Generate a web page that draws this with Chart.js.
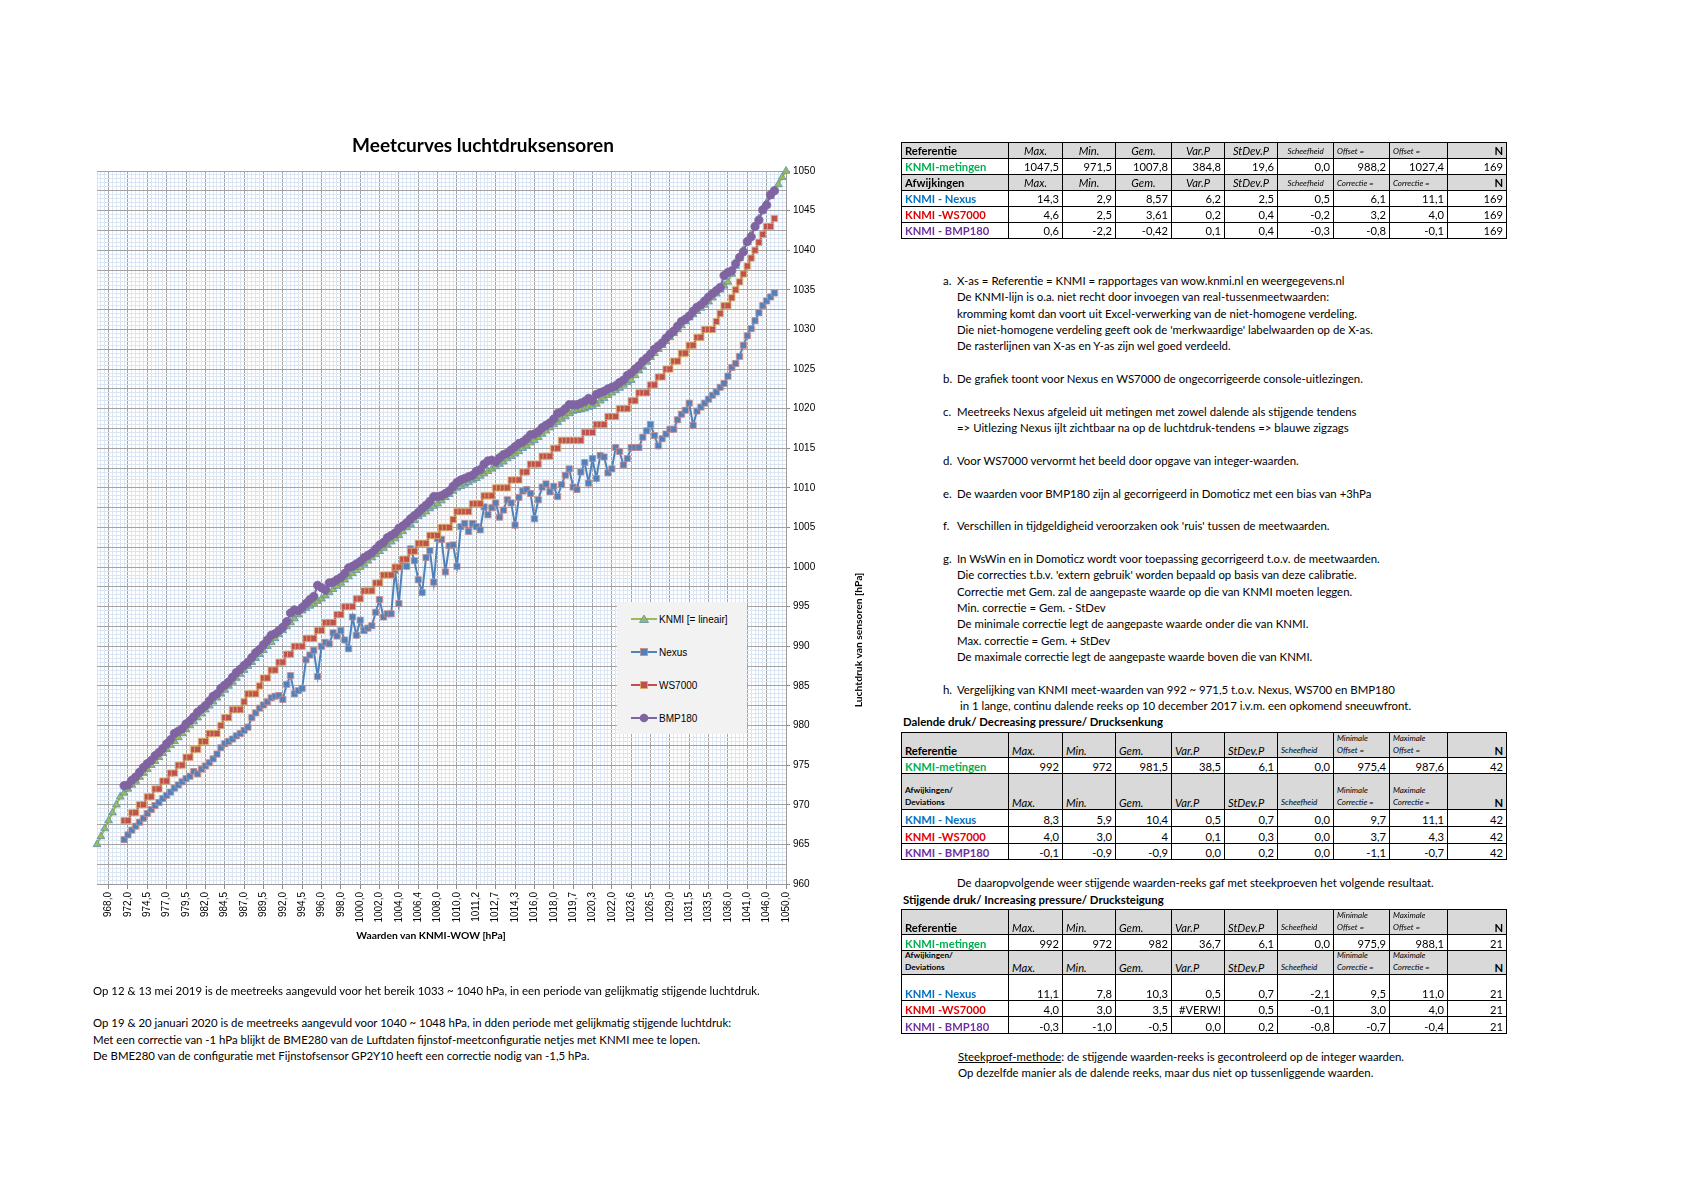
<!DOCTYPE html>
<html><head><meta charset="utf-8">
<script src="https://cdn.jsdelivr.net/npm/chart.js@4.4.1/dist/chart.umd.min.js"></script>
<style>
html,body{margin:0;padding:0;background:#fff;}
body{width:1684px;height:1190px;position:relative;overflow:hidden;font-family:Lato,"Open Sans",sans-serif;color:#000;}
#chartBox{position:absolute;left:0;top:0;width:900px;height:1000px;}
.t{position:absolute;white-space:pre;font-size:11.4px;line-height:14px;}
.cell{position:absolute;box-sizing:border-box;border:1px solid #000;display:flex;padding:0 3px;overflow:hidden;white-space:pre;font-size:11.2px;line-height:11px;}
#legend{position:absolute;left:617px;top:602px;width:130px;height:132px;background:#f2f2f2;font-family:"Liberation Sans",Arial,sans-serif;font-size:10px;}
#legend .row{position:absolute;left:14px;height:14px;display:flex;align-items:center;}
#legend svg{margin-right:2px;}
</style></head><body>
<div id="chartBox"><canvas id="c"></canvas></div>
<div class="t" style="left:0;width:966px;top:133px;text-align:center;font-size:19px;font-weight:bold;line-height:24px;">Meetcurves luchtdruksensoren</div>
<div class="t" style="left:331px;width:200px;top:928px;text-align:center;font-size:10.3px;font-weight:bold;">Waarden van KNMI-WOW [hPa]</div>
<div class="t" style="left:758px;width:200px;top:633px;text-align:center;font-size:10.3px;font-weight:bold;transform:rotate(-90deg);">Luchtdruk van sensoren [hPa]</div>
<div id="legend"></div>
<div id="notes"></div>
<div id="tables"></div>
<script>
// ---------- chart data ----------
// KNMI reference values = x-axis categories (non-homogeneous)
const knmiValues = [
965,966,967,968,969,970,971,971.5,972,972.5,
973,973.5,974,974.5,975,975.5,976,976.5,977,977.5,
978,978.5,979,979.5,980,980.5,981,981.5,982,982.5,
983,983.5,984,984.5,985,985.5,986,986.5,987,987.5,
988,988.5,989,989.5,990,990.5,991,991.5,992,992.5,
993,993.5,994,994.5,994.8,995.1,995.4,995.7,996,996.4,
996.8,997.2,997.6,998,998.4,998.8,999.2,999.6,1000,1000.4,
1000.8,1001.2,1001.6,1002,1002.4,1002.8,1003.2,1003.6,1004,1004.5,
1005,1005.4,1005.9,1006.4,1006.7,1007,1007.4,1007.7,1008,1008.4,
1008.8,1009.2,1009.6,1010,1010.2,1010.5,1010.7,1011,1011.2,1011.5,
1011.8,1012.1,1012.4,1012.7,1013,1013.3,1013.7,1014,1014.3,1014.6,
1015,1015.3,1015.7,1016,1016.4,1016.8,1017.2,1017.6,1018,1018.3,
1018.7,1019,1019.4,1019.7,1019.8,1019.9,1020,1020.2,1020.3,1020.6,
1021,1021.3,1021.7,1022,1022.3,1022.6,1023,1023.3,1023.6,1024.2,
1024.8,1025.3,1025.9,1026.5,1027,1027.5,1028,1028.5,1029,1029.5,
1030,1030.5,1031,1031.5,1031.9,1032.3,1032.7,1033.1,1033.5,1034,
1034.5,1035,1035.5,1036,1037,1038,1039,1040,1041,1042,
1043,1044,1045,1046,1046.8,1047.5,1048.3,1049.2,1050];

// sensor series (169 measurements, category 8 .. 176)
const nexus = [
965.6,966.2,966.8,967.3,967.8,968.3,968.9,969.4,969.9,970.3,
970.8,971.2,971.6,972.1,972.5,972.9,973.3,973.6,974.2,973.9,
974.5,974.9,975.3,975.8,976.4,977.2,977.7,978.0,978.3,978.7,
979.0,979.4,979.8,981.0,981.6,982.2,982.6,983.0,983.5,983.7,
983.8,983.3,985.2,986.3,984.0,984.4,984.7,988.3,988.9,989.5,
986.2,990.0,990.5,990.3,991.7,991.3,992.0,990.8,989.7,993.7,
991.4,993.3,992.0,992.3,992.6,994.3,995.9,993.7,994.1,994.1,
999.6,995.4,1000.8,1000.1,1002.3,1000.8,998.4,996.8,1001.2,1002.1,
998.1,1003.6,1003.5,999.4,1002.7,1002.8,1000.1,1005.1,1005.5,1004.5,
1005.5,1005.1,1004.7,1007.6,1006.6,1007.5,1008.1,1006.3,1007.2,1008.5,
1008.1,1005.3,1008.8,1009.6,1009.8,1009.3,1006.1,1008.5,1010.1,1010.5,
1009.5,1010.2,1008.9,1010.4,1011.6,1012.4,1010.1,1009.8,1012.0,1013.2,
1010.6,1013.7,1011.2,1014.1,1013.9,1011.9,1012.4,1015.1,1014.6,1012.9,
1013.7,1015.1,1015.1,1015.1,1016.4,1017.2,1018.0,1016.6,1015.3,1016.2,
1016.8,1017.4,1017.4,1018.6,1019.3,1019.8,1020.7,1017.9,1019.7,1020.2,
1020.7,1021.2,1021.7,1022.1,1022.7,1023.2,1024.1,1025.2,1025.7,1026.6,
1028.0,1029.2,1030.1,1031.1,1032.1,1033.0,1033.6,1034.1,1034.6];

const ws7000 = [
968,968,969,969,970,970,971,971,972,972,
973,973,974,974,975,975,976,976,977,977,
978,978,979,979,979,980,981,981,982,982,
982,983,984,984,984,985,986,986,987,987,
988,988,989,989,990,990,990,991,991,991,
992,992,993,993,993,994,994,995,995,995,
996,996,997,997,997,998,998,999,999,999,
1000,1000,1001,1001,1002,1002,1003,1003,1003,1004,
1004,1004,1005,1005,1005,1006,1007,1007,1007,1007,
1008,1008,1008,1009,1009,1009,1010,1010,1010,1010,
1011,1011,1011,1012,1012,1013,1013,1013,1014,1014,
1014,1015,1015,1016,1016,1016,1016,1016,1016,1017,
1017,1017,1018,1018,1018,1019,1019,1019,1020,1020,
1020,1021,1021,1022,1022,1022,1023,1023,1024,1024,
1025,1025,1026,1026,1027,1027,1028,1028,1029,1029,
1030,1030,1030,1031,1032,1033,1033,1034,1035,1036,
1037,1038,1039,1040,1041,1042,1043,1043,1044];

const bmp180 = [
972.4,972.5,973.1,973.5,974.1,974.7,975.2,975.6,976.2,976.6,
977.1,977.7,978.2,979.0,979.3,979.6,980.2,980.6,981.1,981.7,
982.1,982.5,983.1,983.7,984.0,984.7,985.1,985.5,986.1,986.7,
987.1,987.6,988.0,988.6,989.2,989.6,990.2,990.8,991.4,991.6,
992.0,992.4,993.1,994.2,994.6,994.5,994.9,995.4,995.9,996.3,
997.7,997.4,997.1,998.0,998.1,998.4,998.7,999.2,999.9,1000.1,
1000.4,1000.7,1001.2,1001.5,1001.8,1002.3,1002.8,1003.1,1003.7,1004.0,
1004.3,1004.9,1005.2,1005.6,1006.1,1006.5,1006.9,1007.4,1007.8,1008.3,
1008.9,1008.9,1009.0,1009.3,1009.6,1010.2,1010.7,1011.0,1011.2,1011.4,
1011.6,1012.1,1012.3,1013.0,1013.4,1013.5,1013.3,1013.8,1014.2,1014.4,
1014.8,1015.2,1015.6,1015.8,1016.2,1016.7,1016.8,1017.1,1017.6,1017.9,
1018.2,1018.7,1019.4,1019.6,1020.0,1020.5,1020.5,1020.5,1020.7,1020.9,
1021.3,1021.0,1021.8,1022.0,1022.2,1022.5,1022.7,1022.9,1023.3,1023.6,
1024.2,1024.5,1025.0,1025.4,1026.0,1026.4,1026.9,1027.5,1027.9,1028.3,
1028.9,1029.4,1029.8,1030.4,1031.0,1031.3,1031.7,1032.3,1032.8,1033.1,
1033.6,1034.1,1034.5,1034.9,1035.3,1036.8,1037.2,1037.4,1038.3,1039.1,
1039.8,1041.1,1041.7,1043.0,1043.8,1045.1,1045.7,1047.0,1047.5];

const seriesNames = ['KNMI [= lineair]','Nexus','WS7000','BMP180'];
const categoryLabels = knmiValues.map(v => v.toFixed(1).replace('.', ','));
const yTickLabels = [960,965,970,975,980,985,990,995,1000,1005,1010,1015,1020,1025,1030,1035,1040,1045,1050];

// ---------- table data ----------
const t1Rows = [
 ['Referentie','Max.','Min.','Gem.','Var.P','StDev.P','Scheefheid','Offset =','Offset =','N'],
 ['KNMI-metingen','1047,5','971,5','1007,8','384,8','19,6','0,0','988,2','1027,4','169'],
 ['Afwijkingen','Max.','Min.','Gem.','Var.P','StDev.P','Scheefheid','Correctie =','Correctie =','N'],
 ['KNMI - Nexus','14,3','2,9','8,57','6,2','2,5','0,5','6,1','11,1','169'],
 ['KNMI -WS7000','4,6','2,5','3,61','0,2','0,4','-0,2','3,2','4,0','169'],
 ['KNMI - BMP180','0,6','-2,2','-0,42','0,1','0,4','-0,3','-0,8','-0,1','169']];
const t2Rows = [
 ['Referentie','Max.','Min.','Gem.','Var.P','StDev.P','Scheefheid','Minimale\nOffset =','Maximale\nOffset =','N'],
 ['KNMI-metingen','992','972','981,5','38,5','6,1','0,0','975,4','987,6','42'],
 ['Afwijkingen/\nDeviations','Max.','Min.','Gem.','Var.P','StDev.P','Scheefheid','Minimale\nCorrectie =','Maximale\nCorrectie =','N'],
 ['KNMI - Nexus','8,3','5,9','10,4','0,5','0,7','0,0','9,7','11,1','42'],
 ['KNMI -WS7000','4,0','3,0','4','0,1','0,3','0,0','3,7','4,3','42'],
 ['KNMI - BMP180','-0,1','-0,9','-0,9','0,0','0,2','0,0','-1,1','-0,7','42']];
const t3Rows = [
 ['Referentie','Max.','Min.','Gem.','Var.P','StDev.P','Scheefheid','Minimale\nOffset =','Maximale\nOffset =','N'],
 ['KNMI-metingen','992','972','982','36,7','6,1','0,0','975,9','988,1','21'],
 ['Afwijkingen/\nDeviations','Max.','Min.','Gem.','Var.P','StDev.P','Scheefheid','Minimale\nCorrectie =','Maximale\nCorrectie =','N'],
 ['KNMI - Nexus','11,1','7,8','10,3','0,5','0,7','-2,1','9,5','11,0','21'],
 ['KNMI -WS7000','4,0','3,0','3,5','#VERW!','0,5','-0,1','3,0','4,0','21'],
 ['KNMI - BMP180','-0,3','-1,0','-0,5','0,0','0,2','-0,8','-0,7','-0,4','21']];
const rowKinds = ['hdr','knmi','hdr','nexus','ws','bmp'];

const notes = [
 ['a.','X-as = Referentie = KNMI = rapportages van wow.knmi.nl en weergegevens.nl'],
 ['','De KNMI-lijn is o.a. niet recht door invoegen van real-tussenmeetwaarden:'],
 ['','kromming komt dan voort uit Excel-verwerking van de niet-homogene verdeling.'],
 ['','Die niet-homogene verdeling geeft ook de \'merkwaardige\' labelwaarden op de X-as.'],
 ['','De rasterlijnen van X-as en Y-as zijn wel goed verdeeld.'],
 null,
 ['b.','De grafiek toont voor Nexus en WS7000 de ongecorrigeerde console-uitlezingen.'],
 null,
 ['c.','Meetreeks Nexus afgeleid uit metingen met zowel dalende als stijgende tendens'],
 ['','=> Uitlezing Nexus ijlt zichtbaar na op de luchtdruk-tendens => blauwe zigzags'],
 null,
 ['d.','Voor WS7000 vervormt het beeld door opgave van integer-waarden.'],
 null,
 ['e.','De waarden voor BMP180 zijn al gecorrigeerd in Domoticz met een bias van +3hPa'],
 null,
 ['f.','Verschillen in tijdgeldigheid veroorzaken ook \'ruis\' tussen de meetwaarden.'],
 null,
 ['g.','In WsWin en in Domoticz wordt voor toepassing gecorrigeerd t.o.v. de meetwaarden.'],
 ['','Die correcties t.b.v. \'extern gebruik\' worden bepaald op basis van deze calibratie.'],
 ['','Correctie met Gem. zal de aangepaste waarde op die van KNMI moeten leggen.'],
 ['','Min. correctie = Gem. - StDev'],
 ['','De minimale correctie legt de aangepaste waarde onder die van KNMI.'],
 ['','Max. correctie = Gem. + StDev'],
 ['','De maximale correctie legt de aangepaste waarde boven die van KNMI.'],
 null,
 ['h.','Vergelijking van KNMI meet-waarden van 992 ~ 971,5 t.o.v. Nexus, WS700 en BMP180'],
 ['',' in 1 lange, continu dalende reeks op 10 december 2017 i.v.m. een opkomend sneeuwfront.']];

const leftNotes = [
 'Op 12 & 13 mei 2019 is de meetreeks aangevuld voor het bereik 1033 ~ 1040 hPa, in een periode van gelijkmatig stijgende luchtdruk.',
 '',
 'Op 19 & 20 januari 2020 is de meetreeks aangevuld voor 1040 ~ 1048 hPa, in dden periode met gelijkmatig stijgende luchtdruk:',
 'Met een correctie van -1 hPa blijkt de BME280 van de Luftdaten fijnstof-meetconfiguratie netjes met KNMI mee te lopen.',
 'De BME280 van de configuratie met Fijnstofsensor GP2Y10 heeft een correctie nodig van -1,5 hPa.'];

// ---------- chart ----------
const firstMeasured = 7;
function onCategories(arr){
  const out = new Array(knmiValues.length).fill(null);
  arr.forEach((v,k)=>{ out[firstMeasured+k] = v; });
  return out;
}
const colors = {knmi:'#9BBB59', nexus:'#4F81BD', ws:'#C0504D', bmp:'#8064A2'};
const DARK = '#a3a3a3', LIGHT = '#dce6f2';
function isMult(v, m){ return Math.abs(v/m - Math.round(v/m)) < 1e-6; }

new Chart(document.getElementById('c'), {
  type:'line',
  data:{
    labels: categoryLabels,
    datasets:[
      {label:seriesNames[0], data:knmiValues, borderColor:colors.knmi, backgroundColor:colors.knmi,
       borderWidth:2, pointStyle:'triangle', pointRadius:4.5, pointBackgroundColor:colors.knmi,
       pointBorderColor:'#5b8fb5', pointBorderWidth:0.8, order:3, clip:false},
      {label:seriesNames[1], data:onCategories(nexus), borderColor:colors.nexus, backgroundColor:colors.nexus,
       borderWidth:2, pointStyle:'rect', pointRadius:4.3, pointBackgroundColor:colors.nexus,
       pointBorderColor:'#c98a8a', pointBorderWidth:0.8, order:2, clip:false},
      {label:seriesNames[2], data:onCategories(ws7000), borderColor:colors.ws, backgroundColor:colors.ws,
       borderWidth:2, pointStyle:'rect', pointRadius:4.3, pointBackgroundColor:colors.ws,
       pointBorderColor:'#d9b06a', pointBorderWidth:0.8, order:1, clip:false},
      {label:seriesNames[3], data:onCategories(bmp180), borderColor:colors.bmp, backgroundColor:colors.bmp,
       borderWidth:2, pointStyle:'circle', pointRadius:4.2, pointBackgroundColor:colors.bmp,
       pointBorderColor:colors.bmp, pointBorderWidth:0.8, order:0, clip:false}
    ]
  },
  options:{
    responsive:true, maintainAspectRatio:false, animation:false,
    layout:{padding:{left:97, top:171, right:900-786-40, bottom:1000-884-50}},
    plugins:{legend:{display:false}, tooltip:{enabled:false}, title:{display:false}},
    elements:{line:{tension:0}},
    scales:{
      x:{type:'category', offset:false,
        afterFit(s){ s.height = 50; },
        grid:{color:(ctx)=> (ctx.index!==undefined && (ctx.index-3)%5===0) ? DARK : LIGHT,
              lineWidth:1, drawTicks:true, tickLength:5,
              tickColor:(ctx)=> ((ctx.index-3)%5===0) ? '#888' : 'rgba(0,0,0,0)'},
        border:{color:'#9a9a9a', width:1},
        ticks:{autoSkip:false, maxRotation:90, minRotation:90, padding:3, color:'#000',
          font:{family:'"Liberation Sans", Arial, sans-serif', size:10},
          callback:function(val, index){ return ((index-3)%5===0) ? categoryLabels[index] : ''; }}
      },
      y:{type:'linear', position:'right', min:960, max:1050,
        afterFit(s){ s.width = 40; },
        grid:{color:(ctx)=> { const v = ctx.tick ? ctx.tick.value : 0; return isMult(v,2.5) ? DARK : LIGHT; },
              lineWidth:1, drawTicks:true, tickLength:4,
              tickColor:(ctx)=> (ctx.tick && isMult(ctx.tick.value,5)) ? '#888' : 'rgba(0,0,0,0)'},
        border:{color:'#9a9a9a', width:1},
        ticks:{stepSize:0.5, maxTicksLimit:1000, autoSkip:false, padding:3, color:'#000',
          font:{family:'"Liberation Sans", Arial, sans-serif', size:10},
          callback:(v)=> yTickLabels.some(t=>Math.abs(t-v)<1e-6) ? String(Math.round(v)) : ''}
      }
    }
  }
});

// ---------- legend (HTML) ----------
const legendY = [10, 43, 76, 109];
const markerSvg = [
 '<polygon points="13,2 17.5,9.5 8.5,9.5" fill="#9BBB59" stroke="#5b8fb5" stroke-width="0.8"/>',
 '<rect x="9.5" y="2.5" width="7" height="7" fill="#4F81BD" stroke="#c98a8a" stroke-width="0.8"/>',
 '<rect x="9.5" y="2.5" width="7" height="7" fill="#C0504D" stroke="#d9b06a" stroke-width="0.8"/>',
 '<circle cx="13" cy="6" r="4.3" fill="#8064A2"/>'];
const lineCol = [colors.knmi, colors.nexus, colors.ws, colors.bmp];
const lg = document.getElementById('legend');
seriesNames.forEach((name,k)=>{
  const r = document.createElement('div'); r.className='row'; r.style.top = legendY[k]+'px';
  r.innerHTML = '<svg width="26" height="12"><line x1="0" y1="6" x2="26" y2="6" stroke="'+lineCol[k]+'" stroke-width="2"/>'+markerSvg[k]+'</svg><span>'+name+'</span>';
  lg.appendChild(r);
});

// ---------- notes ----------
const notesEl = document.getElementById('notes');
notes.forEach((n,k)=>{
  if(!n) return;
  const top = 274 + k*16.35;
  if(n[0]){ const a=document.createElement('div'); a.className='t'; a.style.left='943px'; a.style.top=top+'px'; a.textContent=n[0]; notesEl.appendChild(a); }
  const b=document.createElement('div'); b.className='t'; b.style.left='957px'; b.style.top=top+'px'; b.textContent=n[1]; notesEl.appendChild(b);
});
leftNotes.forEach((s,k)=>{
  if(!s) return;
  const d=document.createElement('div'); d.className='t'; d.style.left='93px'; d.style.top=(984+k*16.2)+'px'; d.textContent=s; notesEl.appendChild(d);
});
function addText(txt, left, top, style){
  const d=document.createElement('div'); d.className='t'; d.style.left=left+'px'; d.style.top=top+'px';
  if(style) Object.assign(d.style, style); d.innerHTML = txt; notesEl.appendChild(d);
}
addText('Dalende druk/ Decreasing pressure/ Drucksenkung', 903, 715, {fontWeight:'bold'});
addText('De daaropvolgende weer stijgende waarden-reeks gaf met steekproeven het volgende resultaat.', 957, 876);
addText('Stijgende druk/ Increasing pressure/ Drucksteigung', 903, 893, {fontWeight:'bold'});
addText('<u>Steekproef-methode</u>: de stijgende waarden-reeks is gecontroleerd op de integer waarden.', 958, 1050);
addText('Op dezelfde manier als de dalende reeks, maar dus niet op tussenliggende waarden.', 958, 1066);

// ---------- tables ----------
const colW = [107,54,53,56,53,53,56,56,58,59];
const kindColor = {knmi:'#00B050', nexus:'#0070C0', ws:'#E00000', bmp:'#7030A0'};
function buildTable(rows, left, top, rowH, centerHdr, bottomAlign){
  const host = document.getElementById('tables');
  let y = top;
  rows.forEach((row, r)=>{
    const kind = rowKinds[r];
    let x = left;
    row.forEach((txt, c)=>{
      const d = document.createElement('div'); d.className='cell';
      d.style.left = x+'px'; d.style.top = y+'px';
      d.style.width = (colW[c]+1)+'px'; d.style.height = (rowH[r]+1)+'px';
      d.style.alignItems = bottomAlign ? 'flex-end' : 'center';
      if(bottomAlign) d.style.paddingBottom = '1px';
      d.textContent = txt;
      if(kind==='hdr'){
        d.style.background = '#d9d9d9';
        if(c===0){ d.style.fontWeight='bold'; if(txt.indexOf('\n')>=0){ d.style.fontSize='8.3px'; d.style.lineHeight='12px'; } }
        else if(c<=5){ d.style.fontStyle='italic'; d.style.justifyContent = centerHdr ? 'center' : 'flex-start'; }
        else if(c<=8){ d.style.fontStyle='italic'; d.style.fontSize='8px'; d.style.lineHeight='12px'; d.style.justifyContent='flex-start'; if(c===6 && centerHdr) d.style.justifyContent='center'; }
        else { d.style.fontWeight='bold'; d.style.justifyContent='flex-end'; }
      } else {
        if(c===0){ d.style.fontWeight='bold'; d.style.color = kindColor[kind]; }
        else d.style.justifyContent='flex-end';
      }
      host.appendChild(d);
      x += colW[c];
    });
    y += rowH[r];
  });
}
buildTable(t1Rows, 901, 142, [16,16,16,16,16,16], true, false);
buildTable(t2Rows, 901, 732, [25,16,36,17,17,16], false, true);
buildTable(t3Rows, 901, 909, [25,16,24,26,16,17], false, true);
</script>
</body></html>
